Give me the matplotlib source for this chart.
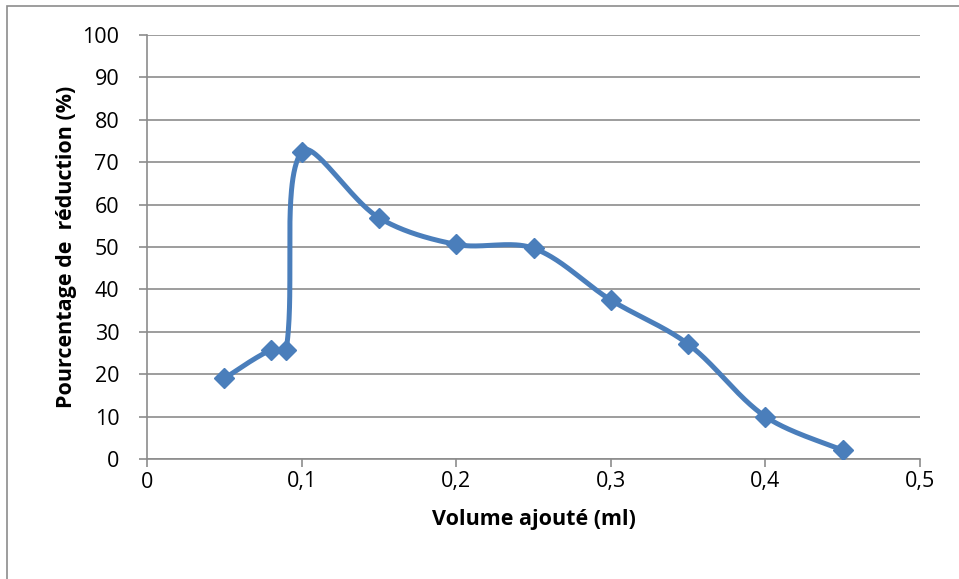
import numpy as np
import matplotlib.pyplot as plt
from matplotlib.patches import Rectangle

plt.rcParams['font.family'] = ['Open Sans', 'DejaVu Sans']

# Volume ajouté (ml) / pourcentage de réduction (%)
volume = [0.05, 0.08, 0.09, 0.10, 0.15, 0.20, 0.25, 0.30, 0.35, 0.40, 0.45]
reduction = [19.0, 25.7, 25.7, 72.5, 56.9, 50.6, 49.7, 37.5, 27.1, 10.0, 2.1]

x_ticks = [0, 0.1, 0.2, 0.3, 0.4, 0.5]
x_tick_labels = ['0', '0,1', '0,2', '0,3', '0,4', '0,5']
y_ticks = list(range(0, 101, 10))

LINE_COL = '#4A7EBB'
GRID_COL = '#8C8C8C'

W, H = 959, 579
AX_L, AX_B, AX_W, AX_H = 147, 120, 773, 424


def smooth(xs, ys, sx, sy, n=60):
    # courbe lissée : Bezier cubique, tangentes pondérées par la longueur
    # des segments voisins (calcul en pixels)
    p = np.column_stack([np.asarray(xs) * sx, np.asarray(ys) * sy])
    m = len(p)
    tang = np.zeros_like(p)
    for i in range(m):
        a = p[max(i - 1, 0)]
        b = p[min(i + 1, m - 1)]
        tang[i] = b - a
    d = np.linalg.norm(np.diff(p, axis=0), axis=1)
    out = []
    for i in range(m - 1):
        p1, p2 = p[i], p[i + 1]
        dl1 = d[i - 1] if i > 0 else d[i]
        dr2 = d[i + 1] if i + 1 < m - 1 else d[i]
        c1 = p1 + tang[i] * d[i] / (dl1 + d[i]) / 3.0
        c2 = p2 - tang[i + 1] * d[i] / (d[i] + dr2) / 3.0
        t = np.linspace(0, 1, n)[:, None]
        seg = ((1 - t) ** 3) * p1 + 3 * ((1 - t) ** 2) * t * c1 \
            + 3 * (1 - t) * t ** 2 * c2 + t ** 3 * p2
        out.append(seg if i == 0 else seg[1:])
    out = np.vstack(out)
    return out[:, 0] / sx, out[:, 1] / sy


fig = plt.figure(figsize=(W / 100, H / 100), dpi=100)
ax = fig.add_axes([AX_L / W, AX_B / H, AX_W / W, AX_H / H])

# cadre du graphique
fig.patches.append(Rectangle((6.5 / W, -0.1), 1.2, (H - 6.5) / H + 0.1,
                             transform=fig.transFigure, fill=False,
                             edgecolor='#8C8C8C', linewidth=1.2))

cx, cy = smooth(volume, reduction, AX_W / 0.5, AX_H / 100.0)
ax.plot(cx, cy, color=LINE_COL, linewidth=3.6, solid_capstyle='round', zorder=3)
ax.plot(volume, reduction, linestyle='none', marker='D', markersize=10.5,
        color=LINE_COL, zorder=4)

ax.set_xlim(0, 0.5)
ax.set_ylim(0, 100)
ax.set_xticks(x_ticks)
ax.set_xticklabels(x_tick_labels)
ax.set_yticks(y_ticks)

ax.yaxis.grid(True, color=GRID_COL, linewidth=1.2)
ax.set_axisbelow(True)
for side in ['top', 'right']:
    ax.spines[side].set_visible(False)
for side in ['left', 'bottom']:
    ax.spines[side].set_color(GRID_COL)
    ax.spines[side].set_linewidth(1.2)
ax.tick_params(axis='both', colors=GRID_COL, width=1.2, length=6,
               labelcolor='black', labelsize=15.5)
ax.tick_params(axis='y', pad=14)
ax.tick_params(axis='x', pad=3)

ax.set_xlabel('Volume ajouté (ml)', fontsize=15.5, fontweight='bold', labelpad=12)
ax.set_ylabel('Pourcentage de  réduction (%)', fontsize=15.5,
              fontweight='bold', labelpad=4)

fig.savefig('out.png', dpi=100)
